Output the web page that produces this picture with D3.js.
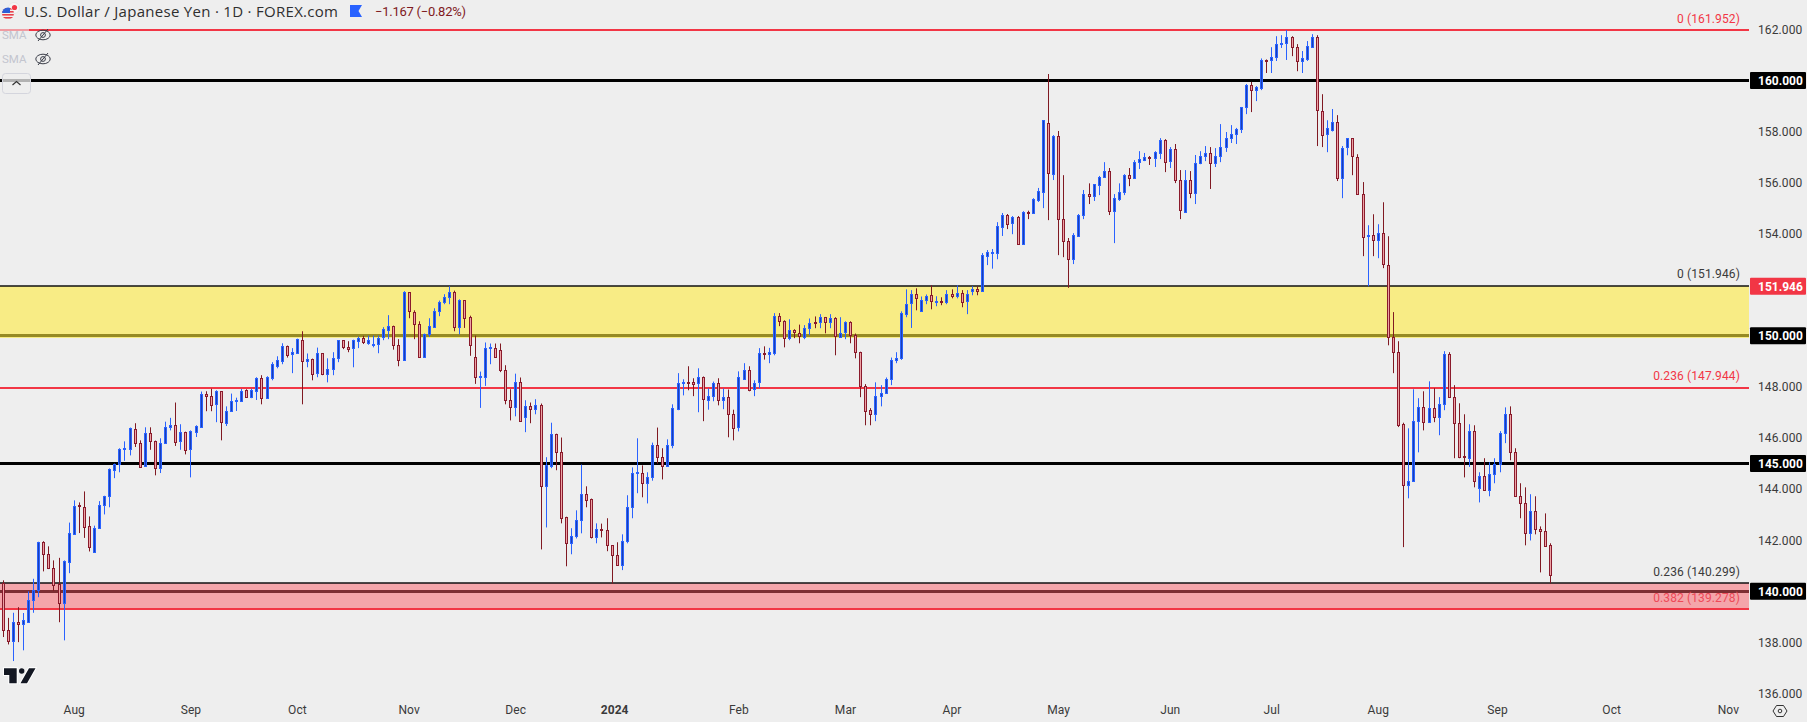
<!DOCTYPE html>
<html>
<head>
<meta charset="utf-8">
<script src="https://d3js.org/d3.v7.min.js"></script>
<style>
  html, body { margin: 0; padding: 0; background: #eeeeee; overflow: hidden; }
  svg { display: block; font-family: Roboto, sans-serif; }
  .axis path, .axis line { display: none; }
  .axis text { fill: #3a3a3a; font-size: 12px; font-family: Roboto, sans-serif; letter-spacing: 0.1px; }
</style>
</head>
<body>
<div id="chart"></div>
<script>
// daily candles
var opens = [
  140.34,138.49,138.05,138.81,138.70,138.82,139.67,140.06,141.94,141.47,
  140.92,140.27,139.51,141.15,142.25,143.36,143.30,142.54,141.54,142.48,
  143.38,143.73,144.75,144.96,145.57,145.57,146.37,145.82,144.90,146.21,
  145.90,144.83,145.81,146.43,146.52,145.88,146.25,145.54,146.24,146.46,
  147.74,147.66,147.31,147.83,146.59,147.07,147.45,147.45,147.87,147.61,
  147.84,148.34,147.56,148.35,148.85,149.05,149.62,149.28,149.33,149.85,
  149.02,149.11,148.51,149.31,148.51,148.71,149.14,149.82,149.58,149.49,
  149.80,149.93,149.75,149.65,149.68,149.92,150.23,150.40,149.66,149.06,
  151.70,150.95,150.48,149.18,150.08,150.35,150.98,151.33,151.53,151.73,
  150.35,151.39,150.72,149.19,148.39,148.39,149.53,149.54,149.46,148.68,
  147.50,147.22,148.21,146.79,147.24,147.14,147.31,144.12,144.92,146.17,
  145.47,142.90,141.89,142.17,142.79,143.82,143.60,142.13,142.45,142.41,
  141.81,141.43,141.03,141.97,143.30,144.63,144.65,144.24,144.48,145.74,
  145.27,144.91,145.73,147.17,148.16,148.18,148.18,148.12,148.37,147.49,
  147.65,148.17,147.49,147.62,146.94,146.40,148.34,148.68,147.92,148.16,
  149.31,149.29,149.33,150.79,150.59,149.91,150.21,150.13,149.98,150.31,
  150.53,150.51,150.72,150.51,150.68,149.96,150.12,150.53,150.05,149.38,
  148.04,147.09,146.94,147.65,147.77,148.31,149.06,149.13,150.86,151.25,
  151.62,150.98,151.41,151.58,151.33,151.38,151.33,151.65,151.56,151.69,
  151.33,151.76,151.85,151.76,153.14,153.25,153.25,154.27,154.73,154.39,
  154.64,153.60,154.85,154.81,155.33,155.64,158.32,156.35,157.81,154.56,
  153.70,153.00,153.91,154.70,155.54,155.45,155.92,156.19,156.44,154.86,
  155.37,155.64,156.28,156.15,156.78,156.88,157.00,156.93,157.16,157.67,
  156.82,157.30,156.09,154.88,156.12,155.59,156.74,157.01,157.14,156.74,
  157.01,157.37,157.72,157.87,158.07,158.93,159.81,159.62,159.70,160.80,
  160.77,160.89,161.43,161.43,161.68,161.29,160.73,160.83,161.30,161.68,
  158.82,157.87,158.09,158.39,156.19,157.36,157.73,157.02,155.57,153.92,
  153.93,153.72,154.01,152.79,149.97,149.38,146.53,144.16,144.32,146.67,
  147.23,146.63,147.19,146.83,147.33,149.28,147.62,146.60,145.29,145.23,
  146.29,144.05,144.53,143.97,144.59,144.99,146.20,146.96,145.47,143.74,
  143.47,142.28,143.16,142.45,142.37,141.83
];
var highs = [
  140.43,138.96,139.16,139.38,139.15,140.00,140.49,141.94,141.96,141.76,
  141.21,141.31,141.21,142.69,143.56,143.48,143.91,142.93,142.57,143.53,
  143.74,144.81,145.00,145.60,145.87,146.41,146.58,145.91,146.42,146.42,
  145.90,145.99,146.64,146.79,147.39,146.54,146.25,146.30,146.50,147.82,
  147.83,147.93,147.87,147.83,147.24,147.74,147.58,147.92,147.91,147.93,
  148.38,148.46,148.42,148.97,149.20,149.71,149.62,149.52,149.89,150.18,
  149.31,149.11,149.54,149.31,149.12,149.36,149.83,149.83,149.79,149.85,
  149.97,150.00,150.01,150.01,150.01,150.34,150.81,150.40,149.87,151.75,
  151.70,151.00,150.57,150.09,150.69,151.08,151.38,151.63,151.94,151.77,
  151.43,151.39,150.79,150.01,148.60,149.74,149.70,149.70,149.70,148.85,
  147.91,148.52,148.37,147.48,147.39,147.52,147.35,145.25,146.60,146.17,
  146.02,142.92,142.47,143.17,144.96,144.11,143.63,142.66,142.65,142.86,
  141.81,141.92,142.23,143.76,144.85,145.99,144.93,144.66,145.82,146.41,
  145.60,145.95,147.32,148.54,148.30,148.81,148.34,148.73,148.41,147.94,
  148.21,148.34,147.94,147.90,147.11,148.61,148.93,148.81,148.26,149.52,
  149.59,149.53,150.89,150.89,150.61,150.65,150.26,150.44,150.42,150.68,
  150.76,150.85,150.74,150.85,150.73,150.73,150.57,150.57,150.09,149.38,
  148.11,147.17,148.18,148.07,148.37,149.15,149.36,150.96,151.82,151.79,
  151.86,151.54,151.62,151.98,151.55,151.51,151.79,151.82,151.98,151.79,
  151.79,151.94,151.94,153.24,153.36,153.40,154.45,154.81,154.77,154.69,
  154.69,154.88,154.90,155.39,155.79,158.44,160.25,157.86,158.02,156.29,
  153.83,154.02,154.77,155.71,155.97,155.93,156.26,156.80,156.57,155.55,
  155.97,156.33,156.57,156.88,157.23,157.16,157.04,157.23,157.74,157.70,
  157.39,157.51,156.49,156.49,156.45,157.08,157.23,157.43,157.39,157.35,
  158.29,157.98,158.25,158.14,158.96,159.86,159.94,159.78,160.86,160.82,
  161.30,161.73,161.77,161.97,161.73,161.42,161.15,161.54,161.81,161.77,
  159.46,158.44,158.88,158.64,157.43,157.73,157.73,157.11,156.02,154.33,
  154.76,154.37,155.23,153.90,150.93,149.79,146.60,146.38,147.91,147.56,
  147.83,148.22,147.95,147.60,149.40,149.36,148.07,147.36,146.93,146.54,
  146.50,144.66,145.21,145.05,145.21,146.27,147.20,147.24,145.60,144.23,
  144.07,143.80,143.72,142.54,143.05,141.88
];
var lows = [
  138.21,137.92,137.27,138.01,137.69,138.79,139.16,139.77,140.78,140.87,
  140.01,138.79,138.08,140.71,142.23,142.28,142.09,141.56,141.54,142.45,
  143.01,143.29,144.43,144.66,145.11,145.32,145.65,144.89,144.89,145.54,
  144.54,144.63,145.78,146.30,145.69,145.54,145.36,144.46,146.04,146.43,
  147.05,147.05,146.62,145.91,146.47,147.06,147.06,147.41,147.57,147.56,
  147.49,147.32,147.53,148.26,148.73,148.89,149.15,148.54,149.31,147.32,
  148.77,148.26,148.38,148.46,148.18,148.46,148.97,149.48,149.36,148.77,
  149.52,149.68,149.65,149.55,149.32,149.83,149.87,149.46,148.81,149.05,
  150.69,149.87,149.16,149.16,149.96,150.34,150.77,151.24,151.24,150.18,
  150.06,150.31,149.22,148.12,147.18,148.04,148.89,149.16,148.58,147.32,
  146.69,146.85,146.66,146.23,146.58,146.93,141.64,142.50,144.82,144.74,
  142.66,140.98,141.45,142.07,142.27,143.29,142.07,141.88,142.11,141.57,
  140.30,141.03,140.83,141.88,142.86,143.84,143.68,143.44,144.33,145.00,
  144.38,144.89,145.60,147.09,147.67,147.87,147.64,147.01,146.66,147.11,
  147.44,147.28,147.13,146.03,145.91,146.26,148.33,147.83,147.64,147.95,
  149.07,148.93,149.24,150.38,149.55,149.83,149.91,149.71,149.87,150.04,
  150.30,150.30,150.10,150.30,149.24,149.96,149.87,149.71,149.12,147.60,
  146.50,146.50,146.66,147.24,147.75,148.07,148.93,149.06,150.73,150.31,
  151.00,150.98,151.24,151.04,151.16,151.20,151.24,151.47,151.47,151.12,
  150.85,151.59,151.59,151.72,152.77,152.63,153.00,153.91,154.18,153.98,
  153.59,153.59,154.57,154.77,155.24,155.00,154.53,156.10,153.16,153.08,
  151.88,152.81,153.87,154.57,155.16,155.28,155.51,156.18,154.73,153.63,
  155.28,155.51,155.86,156.14,156.53,156.84,156.69,156.61,156.92,156.41,
  156.57,155.98,154.57,154.81,155.39,155.16,156.72,156.84,155.75,156.61,
  156.80,157.20,157.55,157.51,157.94,158.68,158.76,159.19,159.62,160.29,
  160.29,160.76,161.27,160.80,160.95,160.36,160.29,160.76,161.27,157.43,
  157.39,157.19,158.00,156.06,155.39,157.07,156.29,155.56,153.12,151.94,
  153.12,153.04,152.65,149.63,148.54,146.43,141.73,143.64,144.31,145.44,
  146.30,146.62,146.62,146.11,147.09,147.60,145.21,145.21,144.46,144.87,
  144.07,143.48,143.95,143.72,144.23,144.66,145.80,145.13,143.73,142.86,
  141.80,141.99,142.23,140.74,141.76,140.31
];
var closes = [
  138.49,138.05,138.81,138.73,138.86,139.67,140.06,141.94,141.47,140.91,
  140.26,139.51,141.17,142.29,143.35,143.33,142.52,141.73,142.49,143.39,
  143.74,144.77,144.97,145.56,145.60,146.38,145.82,144.90,146.21,145.90,
  144.84,145.82,146.45,146.52,145.87,146.25,145.54,146.26,146.47,147.74,
  147.66,147.31,147.83,146.60,147.07,147.46,147.48,147.86,147.61,147.87,
  148.34,147.56,148.38,148.88,149.07,149.62,149.28,149.36,149.87,149.02,
  149.11,148.51,149.31,148.50,148.72,149.15,149.83,149.55,149.49,149.82,
  149.93,149.76,149.85,149.70,149.93,150.25,150.40,149.65,149.06,151.71,
  150.94,150.47,149.18,150.09,150.38,150.99,151.34,151.54,151.73,150.35,
  151.39,150.70,149.61,148.39,148.42,149.54,149.55,149.18,148.67,147.49,
  147.22,148.21,146.67,147.24,147.14,147.31,144.12,144.96,146.17,145.46,
  142.87,141.89,142.18,142.80,143.82,143.58,142.11,142.45,142.40,141.81,
  141.42,141.03,141.98,143.31,144.65,144.66,144.24,144.49,145.74,145.26,
  144.91,145.74,147.19,148.17,148.18,148.16,148.12,148.37,147.49,147.66,
  148.17,147.49,147.62,146.94,146.40,148.37,148.68,147.91,148.17,149.31,
  149.28,149.35,150.79,150.59,149.92,150.21,150.12,150.00,150.32,150.52,
  150.51,150.72,150.51,150.68,149.96,150.13,150.53,150.04,149.37,148.04,
  147.06,146.94,147.66,147.78,148.33,149.07,149.15,150.88,151.26,151.62,
  151.45,151.42,151.56,151.33,151.38,151.35,151.65,151.56,151.69,151.33,
  151.62,151.85,151.76,153.16,153.28,153.28,154.30,154.73,154.39,154.64,
  153.60,154.85,154.82,155.35,155.67,158.44,156.35,157.82,154.55,153.68,
  153.00,153.93,154.73,155.54,155.45,155.93,156.22,156.44,154.86,155.38,
  155.65,156.29,156.15,156.79,156.91,157.00,156.95,157.18,157.67,156.82,
  157.30,156.07,154.90,156.12,155.60,156.75,157.03,157.14,156.74,157.03,
  157.38,157.73,157.89,158.08,158.95,159.81,159.62,159.73,160.79,160.77,
  160.90,161.41,161.46,161.68,161.28,160.73,160.86,161.33,161.68,158.81,
  157.87,158.12,158.39,156.19,157.37,157.73,157.01,155.56,153.88,153.94,
  153.72,154.01,152.78,149.98,149.38,146.51,144.16,144.33,146.68,147.23,
  146.64,147.19,146.83,147.35,149.28,147.61,146.60,145.25,145.26,146.29,
  144.32,144.53,143.97,144.61,145.00,146.21,146.96,145.46,143.73,143.47,
  142.28,143.16,142.44,142.37,141.80,140.64
];

// axis ticks, time ticks are bar numbers
var priceTicks = [162, 158, 156, 154, 148, 146, 144, 142, 138, 136];
var timeTicks = [14, 37, 58, 80, 101, 120.5, 145, 166, 187, 208, 230, 250, 271, 294.5, 317, 340];
var timeLabels = ["Aug", "Sep", "Oct", "Nov", "Dec", "2024", "Feb", "Mar", "Apr", "May", "Jun", "Jul", "Aug", "Sep", "Oct", "Nov"];

// horizontal levels and price tags
var blackLevels = [160, 150, 145, 140];
var fibRed = [161.952, 147.944, 139.278];
var fibBlack = [151.946, 140.299];
var fibTexts = ["0 (161.952)", "0 (151.946)", "0.236 (147.944)", "0.236 (140.299)", "0.382 (139.278)"];
var fibValues = [161.952, 151.946, 147.944, 140.299, 139.278];
var fibColors = ["#f23645", "#3a3a3a", "#f23645", "#3a3a3a", "#ee4a58"];
var yellowBand = [151.946, 149.89];
var redBand = [140.299, 139.278];
var lastPrice = 151.946;

var width = 1807, height = 722, paneRight = 1749;

var svg = d3.select("#chart")
  .append("svg")
    .attr("width", width)
    .attr("height", height);

var x = d3.scaleLinear()
  .domain([0, opens.length - 1])
  .range([2.7, 1550.3]);

var y = d3.scaleLinear()
  .domain([136, 162])
  .range([693.48, 29.31]);

// keep the level lines on whole pixels so they stay crisp
var snapOdd = function(v) { return Math.round(y(v) - 0.5) + 0.5; };
var snapEven = function(v) { return Math.floor(y(v)); };

// black levels go under the bands, that is why 150 and 140 look tinted
svg.selectAll(".level")
  .data(blackLevels)
  .enter()
  .append("line")
    .attr("x1", 0)
    .attr("x2", paneRight)
    .attr("y1", snapOdd)
    .attr("y2", snapOdd)
    .attr("stroke", "#000")
    .attr("stroke-width", 3);

svg.append("rect")
  .attr("x", 0)
  .attr("width", paneRight)
  .attr("y", snapEven(yellowBand[0]))
  .attr("height", snapEven(yellowBand[1]) - snapEven(yellowBand[0]))
  .attr("fill", "#ffeb3b")
  .attr("fill-opacity", 0.59);

svg.append("rect")
  .attr("x", 0)
  .attr("width", paneRight)
  .attr("y", snapEven(redBand[0]))
  .attr("height", snapEven(redBand[1]) - snapEven(redBand[0]))
  .attr("fill", "#fa5c66")
  .attr("fill-opacity", 0.5);

svg.selectAll(".fibred")
  .data(fibRed)
  .enter()
  .append("line")
    .attr("x1", 0)
    .attr("x2", paneRight)
    .attr("y1", snapEven)
    .attr("y2", snapEven)
    .attr("stroke", "#f23645")
    .attr("stroke-width", 2);

svg.selectAll(".fibblack")
  .data(fibBlack)
  .enter()
  .append("line")
    .attr("x1", 0)
    .attr("x2", paneRight)
    .attr("y1", snapEven)
    .attr("y2", snapEven)
    .attr("stroke", "#111")
    .attr("stroke-width", 1.5);

svg.selectAll(".fibtext")
  .data(fibTexts)
  .enter()
  .append("text")
    .attr("x", 1740)
    .attr("y", function(d, i) { return y(fibValues[i]) - 8; })
    .attr("text-anchor", "end")
    .attr("fill", function(d, i) { return fibColors[i]; })
    .attr("font-size", 12)
    .style("letter-spacing", "0.12px")
    .text(function(d) { return d; });

// candles
var up = function(i) { return closes[i] >= opens[i]; };
var candles = svg.append("g").selectAll("g")
  .data(d3.range(opens.length))
  .enter()
  .append("g")
    .attr("transform", function(i) { return "translate(" + Math.round(x(i)) + ",0)"; });

candles.append("rect")
  .attr("x", 0)
  .attr("width", 1)
  .attr("y", function(i) { return y(highs[i]); })
  .attr("height", function(i) { return y(lows[i]) - y(highs[i]); })
  .attr("fill", function(i) { return up(i) ? "#2962ff" : "#801922"; });

candles.append("rect")
  .attr("x", -0.5)
  .attr("width", 2)
  .attr("y", function(i) { return Math.round(y(Math.max(opens[i], closes[i]))) + 0.5; })
  .attr("height", function(i) { return Math.max(1, Math.round(Math.abs(y(opens[i]) - y(closes[i])))); })
  .attr("fill", function(i) { return up(i) ? "#1a3fb5" : "#eda3a5"; })
  .attr("stroke", function(i) { return up(i) ? "#2962ff" : "#8a1a2c"; })
  .attr("stroke-width", 1);

// price axis on the right, the level tags cover the other round numbers
svg.append("g")
  .attr("class", "axis")
  .attr("transform", "translate(1751,0)")
  .call(d3.axisRight(y).tickValues(priceTicks).tickSize(0).tickPadding(7).tickFormat(d3.format(".3f")));

var tags = svg.selectAll(".tag")
  .data(blackLevels.concat([lastPrice]))
  .enter()
  .append("g")
    .attr("transform", function(d) { return "translate(1750," + y(d) + ")"; });
tags.append("rect")
  .attr("x", 0)
  .attr("y", -8.5)
  .attr("width", 56)
  .attr("height", 17)
  .attr("rx", 1)
  .attr("fill", function(d) { return d == lastPrice ? "#f23645" : "#000"; });
tags.append("text")
  .attr("x", 8)
  .attr("y", 4.5)
  .attr("fill", "#fff")
  .attr("font-size", 12)
  .attr("font-weight", 700)
  .text(d3.format(".3f"));

// time axis
svg.append("g")
  .attr("class", "axis time")
  .attr("transform", "translate(0,705)")
  .call(d3.axisBottom(x).tickValues(timeTicks).tickSize(0).tickPadding(0)
    .tickFormat(function(d, i) { return timeLabels[i]; }))
  .selectAll("text")
    .style("font-weight", function(d, i) { return timeLabels[i] == "2024" ? 700 : 400; });

// title bar
svg.append("text")
  .attr("x", 24)
  .attr("y", 17)
  .attr("fill", "#2f2f2f")
  .attr("font-size", 15)
  .attr("font-family", "Open Sans, sans-serif")
  .attr("textLength", 314)
  .text("U.S. Dollar / Japanese Yen · 1D · FOREX.com");

svg.append("path")
  .attr("d", "M350,5H362L358.5,11L362,17H350Z")
  .attr("fill", "#2962ff");

svg.append("text")
  .attr("x", 375)
  .attr("y", 16)
  .attr("fill", "#801922")
  .attr("font-size", 13)
  .attr("textLength", 91)
  .text("−1.167 (−0.82%)");

// flags
var defs = svg.append("defs");
defs.append("clipPath").attr("id", "us")
  .append("circle").attr("cx", 8).attr("cy", 13.5).attr("r", 6);
svg.append("circle").attr("cx", 14).attr("cy", 8).attr("r", 5.5)
  .attr("fill", "#f4f4f4").attr("stroke", "#ddd").attr("stroke-width", 0.5);
svg.append("circle").attr("cx", 14.5).attr("cy", 7.5).attr("r", 2.6).attr("fill", "#f23645");
var us = svg.append("g").attr("clip-path", "url(#us)");
us.append("rect").attr("x", 2).attr("y", 7).attr("width", 12).attr("height", 13).attr("fill", "#f0f0f0");
us.selectAll(".stripe").data([8, 11, 14, 17]).enter().append("rect")
  .attr("x", 2).attr("y", function(d) { return d; }).attr("width", 12).attr("height", 1.6).attr("fill", "#e8404a");
us.append("rect").attr("x", 2).attr("y", 7).attr("width", 8).attr("height", 6).attr("fill", "#2d5fd8");

// legend rows, their background fades the line under them
svg.append("rect").attr("x", 0).attr("y", 26).attr("width", 29).attr("height", 20)
  .attr("fill", "#eeeeee").attr("fill-opacity", 0.55);

var legendRows = [35, 59];
var legend = svg.selectAll(".legend")
  .data(legendRows)
  .enter()
  .append("g")
    .attr("transform", function(d) { return "translate(0," + d + ")"; });
legend.append("text")
  .attr("x", 2)
  .attr("y", 4)
  .attr("fill", "#c3c5cf")
  .attr("font-size", 11.5)
  .text("SMA");
legend.append("ellipse")
  .attr("cx", 43).attr("rx", 7.2).attr("ry", 4.8)
  .attr("fill", "none").attr("stroke", "#3a3d48").attr("stroke-width", 1);
legend.append("circle")
  .attr("cx", 43).attr("r", 2.4)
  .attr("fill", "none").attr("stroke", "#3a3d48").attr("stroke-width", 1);
legend.append("line")
  .attr("x1", 38).attr("y1", 6).attr("x2", 48).attr("y2", -6)
  .attr("stroke", "#3a3d48").attr("stroke-width", 1);

// collapse button
svg.append("rect")
  .attr("x", 2.5).attr("y", 73.5).attr("width", 28).attr("height", 20).attr("rx", 3)
  .attr("fill", "#eeeeee").attr("fill-opacity", 0.75)
  .attr("stroke", "#d4d5dd").attr("stroke-width", 1);
svg.append("path")
  .attr("d", "M12.5,85L16.5,81.5L20.5,85")
  .attr("fill", "none").attr("stroke", "#333").attr("stroke-width", 1.2);

// TradingView mark
svg.append("path")
  .attr("d", "M4,668.3H16.7V683.3H9.3V675H4ZM29,668.3H35.5L27,683.3H20.5Z")
  .attr("fill", "#131722").attr("stroke", "#fff").attr("stroke-width", 2).attr("paint-order", "stroke");
svg.append("circle").attr("cx", 21.7).attr("cy", 671).attr("r", 2.7).attr("fill", "#131722");

// settings icon
svg.append("path")
  .attr("d", "M1773,711L1776.5,705.5H1783.5L1787,711L1783.5,716.5H1776.5Z")
  .attr("fill", "none").attr("stroke", "#333").attr("stroke-width", 1);
svg.append("circle").attr("cx", 1780).attr("cy", 711).attr("r", 1.8)
  .attr("fill", "none").attr("stroke", "#333").attr("stroke-width", 1);
</script>
</body>
</html>
